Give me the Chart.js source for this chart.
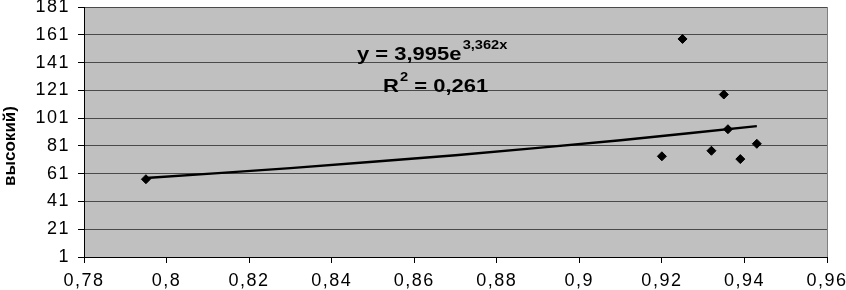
<!DOCTYPE html>
<html>
<head>
<meta charset="utf-8">
<script src="https://cdn.jsdelivr.net/npm/chart.js@4"></script>
<style>
  html, body { margin: 0; padding: 0; background: #fff; }
  #wrap { width: 846px; height: 290px; }
</style>
</head>
<body>
<div id="wrap"><canvas id="chart"></canvas></div>
<script>
// observed points
const pointX = [0.795, 0.920, 0.925, 0.932, 0.935, 0.936, 0.939, 0.943];
const pointY = [57, 73.5, 158, 77.5, 118, 93, 71.5, 82.5];

// exponential trend line
const trendX = [0.795, 0.83, 0.87, 0.91, 0.943];
const trendY = [57.9, 65.0, 74.3, 85.1, 95.2];

const xTicks = [0.78, 0.8, 0.82, 0.84, 0.86, 0.88, 0.9, 0.92, 0.94, 0.96];
const yTicks = [1, 21, 41, 61, 81, 101, 121, 141, 161, 181];

const yTitle = 'высокий)';
const eqMain = 'y = 3,995e';
const eqPower = '3,362x';
const r2Main = 'R';
const r2Power = '2';
const r2Rest = ' = 0,261';

const FONT = '"Liberation Sans", Arial, sans-serif';
const SPACING = '1.5px';

function fmt(v) {
  return String(Math.round(v * 100) / 100).replace('.', ',');
}

const decor = {
  id: 'decor',
  beforeLayout(chart) {
    chart.ctx.letterSpacing = SPACING;
  },
  beforeDraw(chart) {
    const ctx = chart.ctx;
    const a = chart.chartArea;
    ctx.save();
    ctx.fillStyle = '#c0c0c0';
    ctx.fillRect(a.left, a.top, a.right - a.left, a.bottom - a.top);
    ctx.restore();
    ctx.letterSpacing = SPACING;
  },
  afterDraw(chart) {
    const ctx = chart.ctx;
    const a = chart.chartArea;
    ctx.save();
    ctx.letterSpacing = '0px';
    // right border of the plot
    ctx.strokeStyle = '#808080';
    ctx.lineWidth = 1;
    ctx.beginPath();
    ctx.moveTo(a.right + 0.5, a.top);
    ctx.lineTo(a.right + 0.5, a.bottom);
    ctx.stroke();

    // y axis title (cut off like the source)
    ctx.fillStyle = '#000';
    ctx.font = 'bold 17px ' + FONT;
    ctx.textAlign = 'center';
    ctx.textBaseline = 'middle';
    ctx.translate(10, 146);
    ctx.rotate(-Math.PI / 2);
    ctx.fillText(yTitle, 0, 0);
    ctx.restore();

    // trend line equation
    ctx.save();
    ctx.letterSpacing = '0px';
    ctx.fillStyle = '#000';
    ctx.textAlign = 'left';
    ctx.textBaseline = 'alphabetic';
    ctx.translate(357, 60);
    ctx.scale(1.22, 1);
    ctx.font = 'bold 18px ' + FONT;
    ctx.fillText(eqMain, 0, 0);
    const w1 = ctx.measureText(eqMain).width;
    ctx.font = 'bold 12px ' + FONT;
    ctx.fillText(eqPower, w1 + 1, -11);
    ctx.restore();

    ctx.save();
    ctx.letterSpacing = '0px';
    ctx.fillStyle = '#000';
    ctx.textBaseline = 'alphabetic';
    ctx.translate(383, 92);
    ctx.scale(1.22, 1);
    ctx.font = 'bold 18px ' + FONT;
    ctx.fillText(r2Main, 0, 0);
    const w2 = ctx.measureText(r2Main).width;
    ctx.font = 'bold 12px ' + FONT;
    ctx.fillText(r2Power, w2 + 1, -11);
    const w3 = ctx.measureText(r2Power).width;
    ctx.font = 'bold 18px ' + FONT;
    ctx.fillText(r2Rest, w2 + w3 + 1, 0);
    ctx.restore();
    ctx.letterSpacing = SPACING;
  }
};

new Chart(document.getElementById('chart'), {
  type: 'scatter',
  data: {
    datasets: [
      {
        label: 'trend',
        data: trendX.map((x, i) => ({ x: x, y: trendY[i] })),
        showLine: true,
        borderColor: '#000',
        borderWidth: 2.4,
        pointRadius: 0,
        tension: 0.2,
        order: 2
      },
      {
        label: 'points',
        data: pointX.map((x, i) => ({ x: x, y: pointY[i] })),
        pointStyle: 'rectRot',
        pointRadius: 4.5,
        backgroundColor: '#000',
        borderColor: '#000',
        order: 1
      }
    ]
  },
  options: {
    animation: false,
    responsive: true,
    maintainAspectRatio: false,
    layout: { padding: { top: 7, right: 19, left: 0, bottom: 0 } },
    plugins: {
      legend: { display: false },
      tooltip: { enabled: false }
    },
    scales: {
      x: {
        type: 'linear',
        min: 0.78,
        max: 0.96,
        afterBuildTicks: s => { s.ticks = xTicks.map(v => ({ value: v })); },
        afterFit: s => { s.height = 33; s.paddingLeft = 0; s.paddingRight = 0; },
        grid: { drawOnChartArea: false, drawTicks: true, tickLength: 6, color: '#000' },
        border: { color: '#000', width: 1 },
        ticks: {
          color: '#000',
          padding: 7,
          maxRotation: 0,
          autoSkip: false,
          font: { family: FONT, size: 18 },
          callback: v => fmt(v)
        }
      },
      y: {
        type: 'linear',
        min: 1,
        max: 181,
        afterBuildTicks: s => { s.ticks = yTicks.map(v => ({ value: v })); },
        afterFit: s => { s.width = 84; s.paddingTop = 0; s.paddingBottom = 0; },
        grid: { color: '#4a4a4a', tickLength: 6, tickColor: '#000' },
        border: { color: '#000', width: 1 },
        ticks: {
          color: '#000',
          padding: 8,
          autoSkip: false,
          font: { family: FONT, size: 18 },
          callback: v => String(v)
        }
      }
    }
  },
  plugins: [decor]
});
</script>
</body>
</html>
